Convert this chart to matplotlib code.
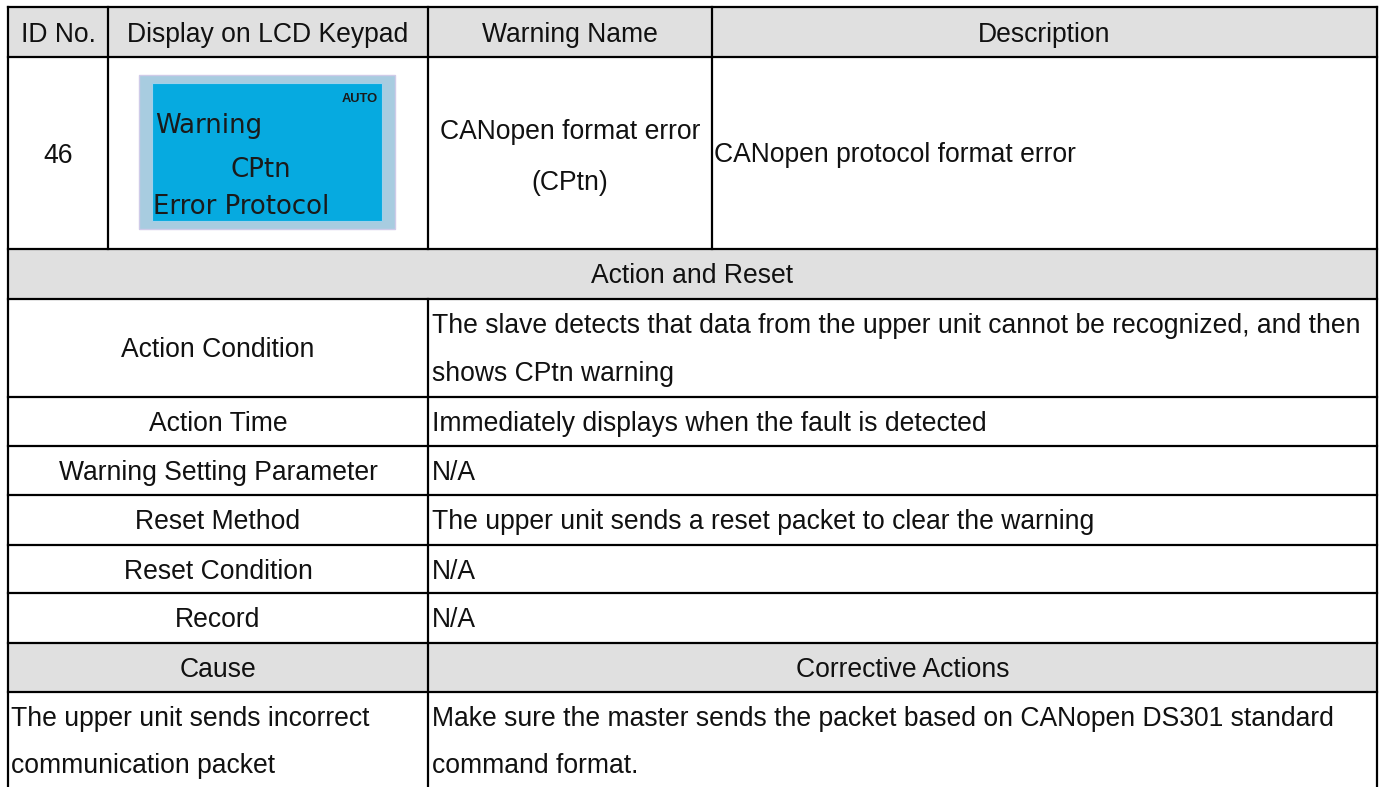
import matplotlib
matplotlib.use('Agg')
import matplotlib.pyplot as plt
from matplotlib.patches import Rectangle

plt.rcParams['font.family'] = ['Liberation Sans', 'DejaVu Sans']

# ---------------------------------------------------------------------------
# table content
header = ['ID No.', 'Display on LCD Keypad', 'Warning Name', 'Description']
warning_id = '46'
lcd_lines = ['Warning', 'CPtn', 'Error Protocol']
lcd_mode = 'AUTO'
warning_name = ['CANopen format error', '(CPtn)']
description = 'CANopen protocol format error'
section_title = 'Action and Reset'
action_items = ['Action Condition', 'Action Time', 'Warning Setting Parameter',
                'Reset Method', 'Reset Condition', 'Record']
action_values = [
    ['The slave detects that data from the upper unit cannot be recognized, and then',
     'shows CPtn warning'],
    ['Immediately displays when the fault is detected'],
    ['N/A'],
    ['The upper unit sends a reset packet to clear the warning'],
    ['N/A'],
    ['N/A'],
]
cause_header = ['Cause', 'Corrective Actions']
causes = [['The upper unit sends incorrect', 'communication packet']]
corrective = [['Make sure the master sends the packet based on CANopen DS301 standard',
               'command format.']]

# ---------------------------------------------------------------------------
# layout (pixel grid of the page)
W, H = 1381, 787
col_x = [8, 108, 428, 712, 1377]
split_x = 428
#        hdr  row1 sect  act0 act1 act2 act3 act4 act5 cause bottom
row_y = [7, 57, 249, 299, 397, 446, 495, 545, 593, 643, 692]
gray = '#e0e0e0'
txt = '#111111'
fs = 19.1
lw = 1.6
line_gap = 48
base_off = 34

fig = plt.figure(figsize=(W / 100, H / 100), dpi=100)
ax = fig.add_axes([0, 0, 1, 1])
ax.set_xlim(0, W)
ax.set_ylim(H, 0)
ax.axis('off')

# shaded rows: header, section title, cause header
for r in (0, 2, 9):
    y0, y1 = row_y[r], row_y[r + 1]
    ax.add_patch(Rectangle((col_x[0], y0), col_x[-1] - col_x[0], y1 - y0,
                           facecolor=gray, edgecolor='none', zorder=0))

# horizontal rules (no bottom rule, page is cut there)
for y in row_y:
    ax.plot([col_x[0], col_x[-1]], [y, y], color='black', lw=lw, zorder=3,
            solid_capstyle='projecting')

# vertical rules
ax.plot([col_x[0], col_x[0]], [row_y[0], H], color='black', lw=lw, zorder=3)
ax.plot([col_x[-1], col_x[-1]], [row_y[0], H], color='black', lw=lw, zorder=3)
for x in col_x[1:-1]:
    ax.plot([x, x], [row_y[0], row_y[2]], color='black', lw=lw, zorder=3)
ax.plot([split_x, split_x], [row_y[3], H], color='black', lw=lw, zorder=3)

# header
for i, h in enumerate(header):
    ax.text((col_x[i] + col_x[i + 1]) / 2, row_y[0] + 35, h, ha='center',
            va='baseline', fontsize=fs, color=txt)

# first data row
ax.text((col_x[0] + col_x[1]) / 2, 163, warning_id, ha='center', va='baseline',
        fontsize=fs, color=txt)
for k, s in enumerate(warning_name):
    ax.text((col_x[2] + col_x[3]) / 2, 139 + k * 51, s, ha='center',
            va='baseline', fontsize=fs, color=txt)
ax.text(col_x[3] + 2, 162, description, ha='left', va='baseline',
        fontsize=fs, color=txt)

# LCD keypad picture
ax.add_patch(Rectangle((139, 75), 256, 154, facecolor='#a8cce0',
                       edgecolor='#cfcbe8', lw=1, zorder=1))
ax.add_patch(Rectangle((152, 83), 230, 138, facecolor='#06aae0',
                       edgecolor='#9fd0ea', lw=0.8, zorder=1))
lcd_font = ['DejaVu Sans']
lcd_fs = 18.7
ax.text(155, 133, lcd_lines[0], ha='left', va='baseline', fontsize=lcd_fs,
        color='#1a1a1a', family=lcd_font, zorder=2)
ax.text(231, 177, lcd_lines[1], ha='left', va='baseline', fontsize=lcd_fs,
        color='#1a1a1a', family=lcd_font, zorder=2)
ax.text(153, 214, lcd_lines[2], ha='left', va='baseline', fontsize=lcd_fs,
        color='#1a1a1a', family=lcd_font, zorder=2)
ax.text(378, 102, lcd_mode, ha='right', va='baseline', fontsize=9.3,
        fontweight='bold', color='#1a1a1a', zorder=2)

# section title
ax.text((col_x[0] + col_x[-1]) / 2, row_y[2] + base_off, section_title,
        ha='center', va='baseline', fontsize=fs, color=txt)

# action rows
for i, (item, vals) in enumerate(zip(action_items, action_values)):
    top = row_y[3 + i]
    n = len(vals)
    ax.text((col_x[0] + split_x) / 2, top + base_off + (n - 1) * line_gap / 2,
            item, ha='center', va='baseline', fontsize=fs, color=txt)
    for k, s in enumerate(vals):
        ax.text(split_x + 4, top + base_off + k * line_gap, s, ha='left',
                va='baseline', fontsize=fs, color=txt)

# cause header
top = row_y[9]
ax.text((col_x[0] + split_x) / 2, top + base_off, cause_header[0], ha='center',
        va='baseline', fontsize=fs, color=txt)
ax.text((split_x + col_x[-1]) / 2, top + base_off, cause_header[1], ha='center',
        va='baseline', fontsize=fs, color=txt)

# cause / corrective action rows
top = row_y[10]
for c, a in zip(causes, corrective):
    for k, s in enumerate(c):
        ax.text(col_x[0] + 3, top + base_off + k * (line_gap - 1), s, ha='left',
                va='baseline', fontsize=fs, color=txt)
    for k, s in enumerate(a):
        ax.text(split_x + 4, top + base_off + k * (line_gap - 1), s, ha='left',
                va='baseline', fontsize=fs, color=txt)

fig.savefig('out.png', dpi=100, facecolor='white')
